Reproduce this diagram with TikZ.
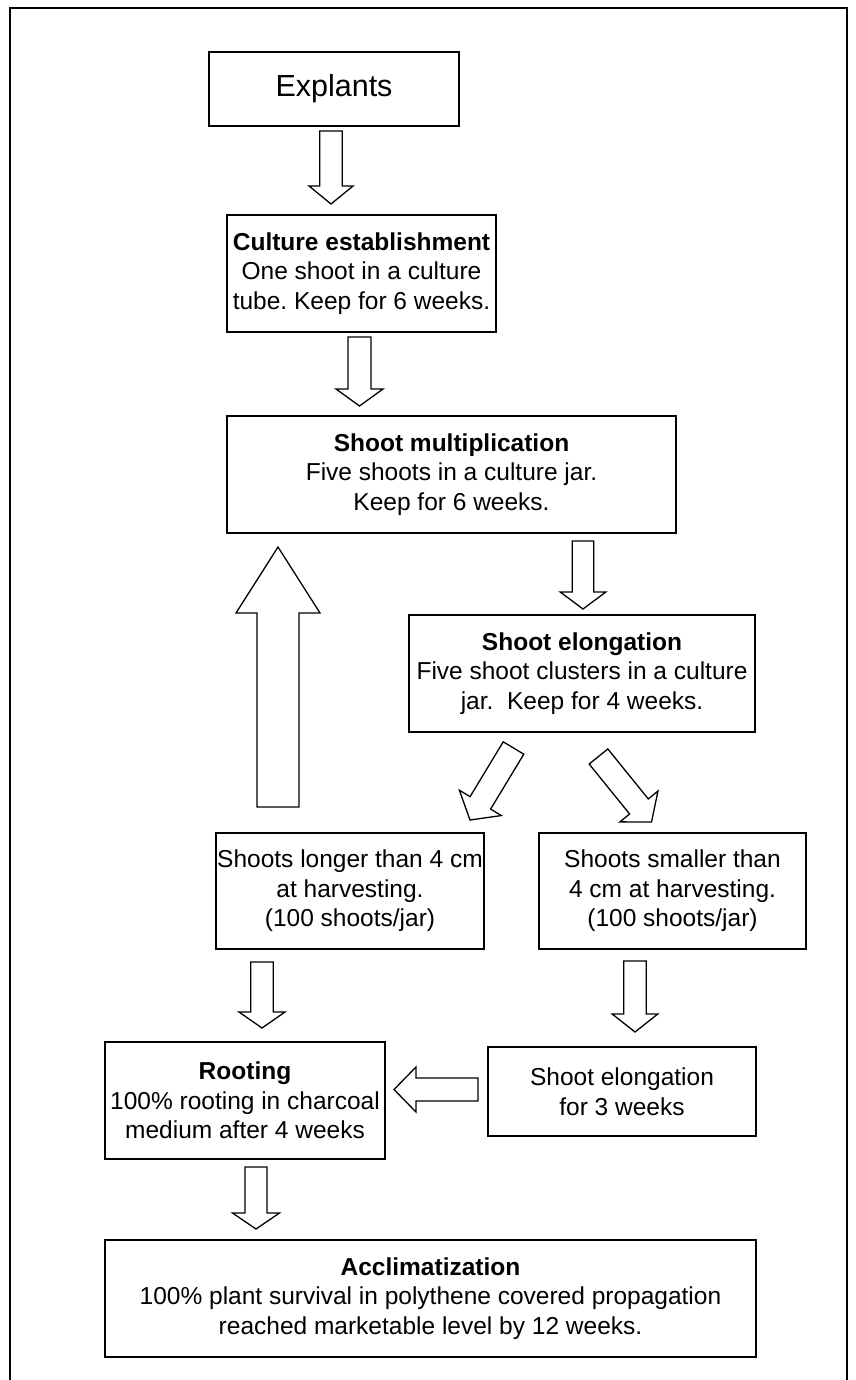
\documentclass[tikz,border=0pt]{standalone}
\usepackage{fontspec}
\setmainfont{Liberation Sans}
\usetikzlibrary{calc}
\frenchspacing
\newcommand\blockarrow[5]{% #1 start, #2 tip, #3 shaft half width, #4 head half width, #5 head length
  \coordinate (#1H) at ($(#2)!#5!(#1)$);
  \draw[barrow] ($(#1)!#3!90:(#2)$) -- ($(#1H)!#3!90:(#2)$) -- ($(#1H)!#4!90:(#2)$) -- (#2)
     -- ($(#1H)!#4!-90:(#2)$) -- ($(#1H)!#3!-90:(#2)$) -- ($(#1)!#3!-90:(#2)$) -- cycle;
}
\begin{document}
\begin{tikzpicture}[x=1pt,y=-1pt,
  box/.style={draw, line width=1.8pt, inner sep=0pt, align=center, font=\fontsize{24.5}{29.5}\selectfont},
  barrow/.style={draw, line width=1.3pt, fill=white, line join=miter},
  frame/.style={draw, line width=2pt}]
\useasboundingbox (0,0) rectangle (855,1380);
\draw[frame] (10,1380) -- (10,8) -- (847,8) -- (847,1380);

% boxes
\node[box, minimum width=250pt, minimum height=74pt, font=\fontsize{30.5}{36}\selectfont] (explants) at (334,89) {Explants};
\node[box, minimum width=269pt, minimum height=117pt] (culture) at (361.5,273.5)
  {\textbf{Culture establishment}\\One shoot in a culture\\tube. Keep for 6 weeks.};
\node[box, minimum width=449pt, minimum height=117pt] (mult) at (451.5,474.5)
  {\textbf{Shoot multiplication}\\Five shoots in a culture jar.\\Keep for 6 weeks.};
\node[box, minimum width=346pt, minimum height=117pt] (elong) at (582,673.5)
  {\textbf{Shoot elongation}\\Five shoot clusters in a culture\\jar.\ \ Keep for 4 weeks.};
\node[box, minimum width=267.5pt, minimum height=116pt] (longer) at (350,891)
  {Shoots longer than 4 cm\\at harvesting.\\(100 shoots/jar)};
\node[box, minimum width=267pt, minimum height=116pt] (smaller) at (672.5,891)
  {Shoots smaller than\\4 cm at harvesting.\\(100 shoots/jar)};
\node[box, minimum width=280.5pt, minimum height=117pt] (rooting) at (245,1100.5)
  {\textbf{Rooting}\\100\% rooting in charcoal\\medium after 4 weeks};
\node[box, minimum width=267.5pt, minimum height=89pt] (elong3) at (622,1091.5)
  {Shoot elongation\\for 3 weeks};
\node[box, minimum width=651pt, minimum height=117pt] (accl) at (430.5,1298.5)
  {\textbf{Acclimatization}\\100\% plant survival in polythene covered propagation\\reached marketable level by 12 weeks.};

% arrow end points
\coordinate (a1s) at (331,131);   \coordinate (a1e) at (331,204);
\coordinate (a2s) at (359.5,337); \coordinate (a2e) at (359.5,406);
\coordinate (a3s) at (583,541);   \coordinate (a3e) at (583,609);
\coordinate (a4s) at (278,807);   \coordinate (a4e) at (278,547);
\coordinate (a5s) at (513.5,748); \coordinate (a5e) at (470,820);
\coordinate (a6s) at (598.5,756.5); \coordinate (a6e) at (651.5,822);
\coordinate (a7s) at (262,962);   \coordinate (a7e) at (262,1028);
\coordinate (a8s) at (635,961);   \coordinate (a8e) at (635,1032);
\coordinate (a9s) at (478,1089.5); \coordinate (a9e) at (394,1089.5);
\coordinate (a10s) at (256,1167); \coordinate (a10e) at (256,1229);

\blockarrow{a1s}{a1e}{11.2pt}{22pt}{18pt}
\blockarrow{a2s}{a2e}{11.5pt}{23.5pt}{17pt}
\blockarrow{a3s}{a3e}{10.8pt}{22.8pt}{17pt}
\blockarrow{a4s}{a4e}{21pt}{42pt}{66pt}
\blockarrow{a5s}{a5e}{12pt}{24.5pt}{20pt}
\blockarrow{a6s}{a6e}{12pt}{24.5pt}{20pt}
\blockarrow{a7s}{a7e}{11.3pt}{23pt}{16pt}
\blockarrow{a8s}{a8e}{11.3pt}{22.8pt}{18pt}
\blockarrow{a9s}{a9e}{11.5pt}{22.5pt}{22pt}
\blockarrow{a10s}{a10e}{11pt}{23.5pt}{16pt}
\end{tikzpicture}
\end{document}
